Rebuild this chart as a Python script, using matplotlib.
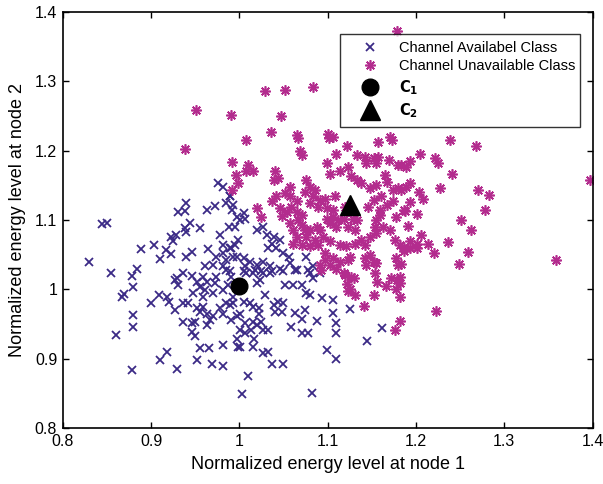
import matplotlib
matplotlib.use("Agg")
import matplotlib.pyplot as plt

plt.rcParams['font.family'] = ['Liberation Sans', 'DejaVu Sans']

# Channel available class (crosses)
avail_x = [
    0.976, 0.981, 0.940, 0.930, 0.938, 0.963, 0.973, 0.985, 0.989, 0.992, 0.997,
    0.844, 0.850, 0.944, 0.938, 0.940, 0.955, 0.988, 0.978, 0.923, 0.928, 0.925,
    0.903, 0.889, 0.917, 0.923, 0.910, 0.940, 0.946, 0.964, 0.982, 0.991, 0.995,
    0.974, 0.982, 0.985, 0.993, 0.830, 0.855, 0.884, 0.879, 0.936, 0.929, 0.946,
    0.961, 0.970, 0.982, 0.959, 0.974, 0.985, 0.991,
    0.880, 0.867, 0.869, 0.900, 0.909, 0.918, 0.920, 0.927, 0.927, 0.931, 0.952,
    0.955, 0.948, 0.959, 0.961, 0.970, 0.963, 0.972, 0.982, 0.987, 0.993, 0.936,
    0.942, 0.952, 0.959, 0.955, 0.963, 0.970, 0.978, 0.982, 0.985, 0.989, 0.936,
    0.946, 0.950, 0.963, 0.967, 0.991, 0.997, 0.880, 0.880, 0.860, 0.946, 0.950,
    0.955, 0.966, 0.981, 0.997, 0.999, 0.910, 0.918, 0.952, 0.969, 0.982, 0.878,
    0.929,
    0.990, 1.005, 1.016, 1.025, 1.035, 1.050, 1.063, 1.080, 1.023, 1.020, 1.052,
    1.061, 1.071, 1.084, 1.076, 1.080, 1.094, 1.106, 1.125, 1.029, 0.993, 1.005,
    1.012, 1.016, 1.022, 1.039, 1.044, 1.050, 1.048, 1.040, 1.063, 1.074, 1.071,
    1.001, 1.022, 1.016, 1.025, 1.007, 1.020, 1.001, 1.013, 1.027, 1.033, 1.059,
    1.071, 1.078, 1.088, 1.017, 1.007, 1.106, 1.109, 1.110, 1.099, 1.109, 1.001,
    1.016, 1.027, 1.032, 1.037, 1.050, 1.010, 1.003, 1.082, 1.162, 1.145,
    0.990, 0.993, 1.005, 1.001, 1.007, 0.995, 0.999, 0.990, 1.020, 1.027, 1.031,
    1.039, 1.046, 1.037, 1.033, 1.042, 1.050, 1.056, 0.997, 1.005, 1.012, 1.020,
    1.027, 1.035, 1.018, 1.007, 1.008, 1.027, 1.037, 1.046, 1.057, 1.065, 1.078,
    1.084, 1.091, 1.076,
]
avail_y = [
    1.153, 1.147, 1.125, 1.112, 1.113, 1.115, 1.120, 1.124, 1.134, 1.115, 1.105,
    1.094, 1.095, 1.096, 1.088, 1.083, 1.088, 1.090, 1.078, 1.076, 1.078, 1.069,
    1.064, 1.058, 1.057, 1.051, 1.044, 1.047, 1.054, 1.058, 1.064, 1.060, 1.064,
    1.047, 1.053, 1.042, 1.047, 1.039, 1.024, 1.029, 1.019, 1.024, 1.016, 1.019,
    1.033, 1.035, 1.033, 1.018, 1.018, 1.028, 1.018,
    1.003, 0.989, 0.993, 0.980, 0.992, 0.989, 0.982, 0.970, 1.014, 1.006, 1.011,
    1.004, 0.994, 0.989, 0.999, 0.994, 1.011, 1.009, 0.999, 1.006, 0.989, 0.980,
    0.980, 0.973, 0.975, 0.968, 0.965, 0.961, 0.973, 0.965, 0.980, 0.977, 0.953,
    0.951, 0.953, 0.949, 0.956, 0.956, 0.961, 0.963, 0.946, 0.934, 0.938, 0.932,
    0.915, 0.916, 0.920, 0.929, 0.917, 0.898, 0.909, 0.898, 0.893, 0.890, 0.884,
    0.885,
    1.026, 1.026, 1.023, 1.026, 1.023, 1.026, 1.028, 1.023, 1.014, 1.009, 1.006,
    1.006, 1.006, 1.016, 0.994, 0.992, 0.987, 0.985, 0.972, 0.992, 0.980, 0.982,
    0.980, 0.975, 0.973, 0.977, 0.982, 0.980, 0.968, 0.968, 0.966, 0.970, 0.957,
    0.965, 0.965, 0.953, 0.953, 0.951, 0.949, 0.942, 0.941, 0.941, 0.941, 0.945,
    0.937, 0.937, 0.955, 0.929, 0.937, 0.966, 0.951, 0.937, 0.913, 0.899, 0.917,
    0.917, 0.908, 0.910, 0.892, 0.892, 0.875, 0.849, 0.851, 0.944, 0.925,
    1.134, 1.122, 1.110, 1.100, 1.102, 1.090, 1.071, 1.059, 1.086, 1.090, 1.078,
    1.076, 1.071, 1.066, 1.059, 1.059, 1.052, 1.047, 1.047, 1.045, 1.040, 1.035,
    1.040, 1.033, 1.028, 1.033, 1.023, 1.023, 1.026, 1.030, 1.038, 1.028, 1.028,
    1.033, 1.023, 1.047,
]

# Channel unavailable class (asterisks)
unavail_x = [
    1.179, 1.029, 1.052, 1.084, 0.951, 0.991, 1.047, 1.036, 1.066, 1.102, 1.173,
    1.397,
    1.239, 1.268, 1.205, 1.193, 1.222, 1.225, 1.241, 1.183, 1.193, 1.183, 1.227,
    1.204, 1.208, 1.270, 1.283, 1.193, 1.188, 1.201, 1.278, 1.251, 1.191, 1.262,
    1.206, 1.193, 1.201, 1.193, 1.201, 1.214, 1.236, 1.186, 1.220, 1.259, 1.249,
    1.183, 1.359,
    1.182, 1.182, 1.223, 1.182,
    1.120, 1.130, 1.122, 1.125, 1.123, 1.131, 1.156, 1.166, 1.179, 1.178, 1.152,
    1.141, 1.176, 1.092,
    0.939, 0.992, 0.996, 0.992, 0.999,
    1.008, 1.065, 1.100, 1.106, 1.122, 1.157, 1.171, 1.069, 1.071, 1.110, 1.010,
    1.015, 1.008, 1.040, 1.039, 1.044, 1.099, 1.103, 1.114, 1.123, 1.127, 1.133,
    1.142, 1.144, 1.152, 1.155, 1.157, 1.169, 1.180, 1.189,
    1.076, 1.080, 1.074, 1.086, 1.084, 1.091, 1.097, 1.080, 1.089, 1.099, 1.108,
    1.106, 1.120,
    1.057, 1.052, 1.057, 1.065, 1.059, 1.054, 1.042, 1.037, 1.046, 1.065, 1.067,
    1.071, 1.020, 1.025, 1.048,
    1.133, 1.138, 1.148, 1.155, 1.165, 1.167, 1.174, 1.180, 1.189, 1.161, 1.174,
    1.152, 1.146, 1.159, 1.167, 1.187, 1.178,
    1.099, 1.106, 1.112, 1.118, 1.129, 1.133, 1.103, 1.110, 1.123, 1.131, 1.088,
    1.091, 1.095, 1.086, 1.080, 1.076,
    1.057, 1.061, 1.071, 1.074, 1.065, 1.061, 1.071, 1.080, 1.089,
    1.103, 1.114, 1.121, 1.131, 1.138, 1.142, 1.148, 1.155, 1.154, 1.163, 1.171,
    1.155, 1.159,
    1.097, 1.106, 1.114, 1.123, 1.125, 1.097, 1.091, 1.103, 1.110, 1.118, 1.127,
    1.148, 1.152, 1.142, 1.155, 1.144, 1.154, 1.176, 1.182, 1.186, 1.178, 1.180,
    1.182, 1.172,
]
unavail_y = [
    1.373, 1.286, 1.288, 1.292, 1.259, 1.252, 1.250, 1.227, 1.218, 1.218, 1.216,
    1.157,
    1.215, 1.207, 1.195, 1.185, 1.190, 1.182, 1.167, 1.179, 1.153, 1.143, 1.146,
    1.140, 1.130, 1.143, 1.136, 1.126, 1.113, 1.109, 1.115, 1.100, 1.091, 1.086,
    1.079, 1.069, 1.066, 1.059, 1.059, 1.065, 1.068, 1.055, 1.053, 1.054, 1.036,
    1.036, 1.042,
    1.009, 0.989, 0.969, 0.954,
    1.021, 1.016, 1.008, 1.001, 0.997, 0.992, 1.011, 1.005, 1.013, 1.000, 0.992,
    0.976, 0.941, 1.028,
    1.203, 1.183, 1.165, 1.143, 1.153,
    1.216, 1.223, 1.224, 1.219, 1.207, 1.213, 1.219, 1.199, 1.194, 1.195, 1.179,
    1.170, 1.170, 1.170, 1.158, 1.160, 1.182, 1.167, 1.170, 1.177, 1.163, 1.194,
    1.191, 1.182, 1.189, 1.182, 1.191, 1.187, 1.179, 1.177,
    1.158, 1.148, 1.141, 1.143, 1.134, 1.129, 1.131, 1.124, 1.119, 1.117, 1.134,
    1.115, 1.119,
    1.148, 1.139, 1.134, 1.127, 1.119, 1.112, 1.134, 1.127, 1.117, 1.112, 1.100,
    1.107, 1.117, 1.105, 1.106,
    1.158, 1.153, 1.146, 1.151, 1.165, 1.155, 1.143, 1.146, 1.148, 1.134, 1.127,
    1.129, 1.119, 1.115, 1.122, 1.115, 1.105,
    1.102, 1.105, 1.100, 1.102, 1.102, 1.100, 1.095, 1.090, 1.090, 1.086, 1.090,
    1.086, 1.076, 1.071, 1.086, 1.076,
    1.095, 1.086, 1.093, 1.086, 1.076, 1.066, 1.064, 1.062, 1.064,
    1.069, 1.064, 1.062, 1.066, 1.071, 1.064, 1.076, 1.081, 1.090, 1.090, 1.086,
    1.100, 1.107,
    1.052, 1.045, 1.040, 1.042, 1.047, 1.042, 1.035, 1.035, 1.030, 1.023, 1.018,
    1.050, 1.040, 1.045, 1.038, 1.035, 1.023, 1.071, 1.064, 1.059, 1.045, 1.035,
    1.018, 1.016,
]

# Class centroids
c1_x, c1_y = [1.000], [1.005]
c2_x, c2_y = [1.125], [1.122]

labels = ["Channel Availabel Class", "Channel Unavailable Class",
          r"$\mathbf{C}_{\mathbf{1}}$", r"$\mathbf{C}_{\mathbf{2}}$"]

blue = "#3b2a86"
magenta = "#b32c8e"

fig = plt.figure(figsize=(6.03, 4.84), dpi=100)
ax = fig.add_axes([0.104, 0.1157, 0.8786, 0.8595])

ax.plot(avail_x, avail_y, linestyle="none", marker="x", color=blue,
        markersize=6, markeredgewidth=1.3, label=labels[0])
ax.plot(unavail_x, unavail_y, linestyle="none", marker=(8, 2, 0), color=magenta,
        markersize=7.5, markeredgewidth=1.2, label=labels[1])
ax.plot(c1_x, c1_y, linestyle="none", marker="o", color="black",
        markersize=12, label=labels[2])
ax.plot(c2_x, c2_y, linestyle="none", marker="^", color="black",
        markersize=15, label=labels[3])

ax.set_xlim(0.8, 1.4)
ax.set_ylim(0.8, 1.4)
ax.set_xticks([0.8, 0.9, 1.0, 1.1, 1.2, 1.3, 1.4])
ax.set_yticks([0.8, 0.9, 1.0, 1.1, 1.2, 1.3, 1.4])
ax.set_xticklabels(["0.8", "0.9", "1", "1.1", "1.2", "1.3", "1.4"])
ax.set_yticklabels(["0.8", "0.9", "1", "1.1", "1.2", "1.3", "1.4"])
ax.tick_params(direction="in", top=True, right=True, length=4, width=1,
               labelsize=11.5, pad=4)
for s in ax.spines.values():
    s.set_linewidth(1.2)

ax.set_xlabel("Normalized energy level at node 1", fontsize=13, labelpad=5)
ax.set_ylabel("Normalized energy level at node 2", fontsize=13, labelpad=6)

leg = ax.legend(loc="upper left", bbox_to_anchor=(0.5234, 0.5, 0.453, 0.447),
                mode="expand", fontsize=10.5,
                frameon=True, fancybox=False, edgecolor="black",
                borderpad=0.45, labelspacing=0.32, handletextpad=0.4,
                handlelength=3.2, borderaxespad=0.0)
leg.get_frame().set_linewidth(1.0)

fig.savefig("out.png", dpi=100)
